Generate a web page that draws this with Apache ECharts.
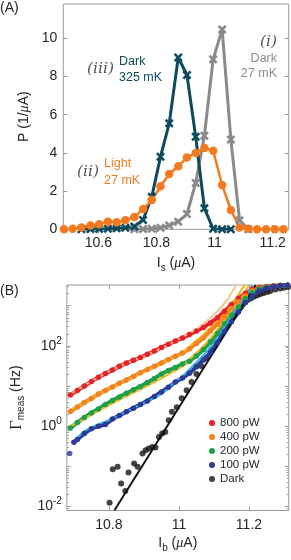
<!DOCTYPE html>
<html>
<head>
<meta charset="utf-8">
<script src="https://cdn.jsdelivr.net/npm/echarts@6/dist/echarts.min.js"></script>
<style>
html,body{margin:0;padding:0;background:#fff;}
#chart{width:291px;height:560px;}
</style>
</head>
<body>
<div id="chart"></div>
<script>
// ---------- Panel (A): switching-current histograms ----------
const isBins = [10.482,10.512,10.542,10.573,10.603,10.633,10.663,10.693,10.724,10.754,10.784,10.814,10.844,10.875,10.905,10.935,10.965,10.995,11.026,11.056,11.086,11.116,11.146,11.177,11.207,11.237];
const pDark27 = [null,null,null,null,null,null,null,null,0,0.01,0.03,0.08,0.2,0.4,0.8,2.42,4.9,8.9,10.47,4.7,0.47,0,null,null,null,null];
const pDark325 = [null,null,0,0.01,0.02,0.03,0.05,0.08,0.15,0.49,1.7,3.8,5.55,9.0,8.08,4.85,1.1,0.03,0,0,null,null,null,null,null,null];
const pLight27 = [0,0.03,0.1,0.2,0.27,0.4,0.37,0.48,0.64,1.06,1.53,2.25,2.9,3.3,3.76,4.0,4.26,4.12,2.32,1.01,0.1,0.03,0,0,0,0];
const xTicksA = [10.6,10.8,11,11.2];
const yTicksA = [0,2,4,6,8,10];

// ---------- Panel (B): escape rates ----------
const ibGrid = [10.69,10.71,10.73,10.75,10.77,10.79,10.81,10.83,10.85,10.87,10.89,10.91,10.93,10.95,10.97,10.99,11.01,11.03,11.05,11.07,11.09,11.11,11.13,11.15,11.17,11.19,11.21,11.23,11.25,11.27,11.29,11.31];
const gamma800 = [6.0,7.8,10.0,12.9,16.6,20.4,25.1,30.9,37.2,43.7,51.3,61.7,74,91,110,132,158,191,234,288,372,501,724,1072,1514,2042,2570,2884,3020,3126,3200,3236];
const gamma400 = [2.34,3.0,3.9,4.9,6.3,7.8,9.5,11.7,14.1,17.4,21.4,25.7,30.9,37.2,45.7,55,66,85,115,158,234,347,525,851,1259,1778,2344,2754,2951,3090,3162,3236];
const gamma200 = [0.91,1.23,1.66,2.14,2.69,3.47,4.37,5.37,6.6,8.1,9.8,12.3,15.5,20,24.5,28.8,35.5,41.7,56,81,126,204,355,575,933,1479,2089,2630,2884,3020,3162,3236];
const ib100 = [10.70,10.71,10.73,10.75,10.77,10.79,10.81,10.83,10.85,10.87,10.89,10.91,10.93,10.95,10.97,10.99,11.01,11.03,11.05,11.07,11.09,11.11,11.13,11.15,11.17,11.19,11.21,11.23,11.25,11.27,11.29,11.31];
const gamma100 = [0.40,0.47,0.66,0.87,1.0,1.1,1.51,1.86,2.29,2.82,3.47,4.27,5.5,7.1,9.3,12.6,15.8,20.9,30.2,44.7,67.6,120,224,398,692,1202,1778,2344,2754,3020,3162,3236];
const ib100Stray = [10.688];
const gamma100Stray = [0.21];
const ibDark = [10.802,10.811,10.825,10.835,10.847,10.856,10.872,10.882,10.896,10.905,10.914,10.924,10.933,10.943,10.952,10.961,10.971,10.980,10.994,11.008,11.022,11.036,11.050,11.064,11.078,11.092,11.106,11.120,11.134,11.149,11.167,11.177,11.186,11.196,11.205,11.214,11.224,11.233,11.242,11.252,11.261,11.275,11.289,11.300,11.312];
const gammaDark = [0.0124,0.085,0.098,0.0376,0.0245,0.0705,0.118,0.098,0.21,0.253,0.279,0.305,0.295,0.54,0.66,0.72,1.41,2.3,2.97,4.97,7.9,12.6,20,31.6,50,80,127,203,309,444,724,950,1175,1380,1503,1660,1820,1950,2070,2190,2323,2510,2660,2790,2917];
const fit800X = [10.69,10.73,10.77,10.81,10.85,10.89,10.93,10.97,11.01,11.05,11.08,11.10,11.12,11.14,11.155,11.164];
const fit800Y = [6.3,10.2,16.5,25.5,37,51,73,108,165,262,420,600,900,1500,2450,3270];
const fit400X = [10.688,10.73,10.77,10.81,10.85,10.89,10.93,10.97,11.01,11.04,11.07,11.10,11.13,11.16,11.18,11.19];
const fit400Y = [2.5,3.9,6.2,9.6,14.0,20.5,30,45,68,115,190,345,636,1400,2600,3270];
const fit200X = [10.688,10.73,10.77,10.81,10.85,10.89,10.93,10.97,11.01,11.04,11.07,11.10,11.13,11.16,11.185,11.20];
const fit200Y = [0.96,1.55,2.4,3.7,5.6,8.3,12.5,19.5,31,56,98,195,433,960,1950,3270];
const fit100X = [10.697,10.727,10.764,10.811,10.858,10.905,10.952,10.98,11.017,11.055,11.083,11.111,11.139,11.167,11.195,11.209];
const fit100Y = [0.37,0.72,1.06,1.55,2.5,4.0,6.5,11.0,20,43,78,166,393,929,1995,3270];
const fitDarkX = [10.816,11.219];
const fitDarkY = [0.0081,3270];
const legendNames = ['800 pW','400 pW','200 pW','100 pW','Dark'];
const xTicksB = [10.8,11,11.2];
const yLabelsB = [0.01,1,100];
const yMajorB = [0.01,0.1,1,10,100,1000];

// ---------- styling ----------
const FONT = '"Liberation Sans", Arial, Helvetica, sans-serif';
const TXT = '#262626';
const FRAME = '#9a9a9a';
const C_TEAL = '#0c4a5c', C_GRAY = '#8a8a8a', C_ORANGE = '#f47a20';
const C_RED = '#e8202a', C_OR = '#f58220', C_GREEN = '#1fa04a', C_BLUE = '#2b3a97', C_BLACK = '#151515';
const C_PEACH = '#f6c88e', C_GOLD = '#efb81a', C_LBLUE = '#33aee6';
const xPath = 'path://M2,0 L5,3 L8,0 L10,2 L7,5 L10,8 L8,10 L5,7 L2,10 L0,8 L3,5 L0,2 Z';

const minorB = [];
for (let e = -3; e <= 3; e++) for (let k = 2; k <= 9; k++) {
  const v = k * Math.pow(10, e);
  if (v > 0.008 && v < 3270) minorB.push(v);
}

const pairs = (xs, ys) => xs.map((x, i) => [x, ys[i]]);
const fmtX = v => String(Math.round(v * 10) / 10);
const tickStyle = {lineStyle: {color: FRAME, width: 1}};

function nameRich(size) {
  return {
    n: {fontSize: size, lineHeight: 20, color: TXT, fontFamily: FONT, verticalAlign: 'middle'},
    sub: {fontSize: size - 4, lineHeight: 10, color: TXT, fontFamily: FONT, verticalAlign: 'bottom'},
    mu: {fontSize: size, lineHeight: 20, color: TXT, fontFamily: '"Liberation Serif", serif', fontStyle: 'italic', verticalAlign: 'middle'},
    g: {fontSize: size + 3, lineHeight: 20, color: TXT, fontFamily: '"Liberation Serif", serif', verticalAlign: 'middle'}
  };
}

function tickOnlyAxis(base) {
  return Object.assign({
    axisLine: {show: false},
    axisLabel: {show: false},
    splitLine: {show: false}
  }, base);
}

const chart = echarts.init(document.getElementById('chart'), null, {renderer: 'canvas'});
const option = {
  animation: false,
  backgroundColor: '#fff',
  grid: [
    {left: 63.3, top: 4, width: 225.4, height: 225.3, show: true, borderColor: FRAME, borderWidth: 1, backgroundColor: 'transparent'},
    {left: 63.3, top: 285, width: 225.4, height: 225.5, show: true, borderColor: FRAME, borderWidth: 1, backgroundColor: 'transparent'}
  ],
  xAxis: [
    {gridIndex: 0, type: 'value', min: 10.4796, max: 11.255, position: 'bottom',
     axisLine: {show: false}, splitLine: {show: false},
     axisTick: Object.assign({inside: true, length: 4, customValues: xTicksA}, tickStyle),
     axisLabel: {customValues: xTicksA, formatter: fmtX, margin: 7, fontSize: 14, color: TXT, fontFamily: FONT},
     name: '{n|I}{sub|s}{n| (}{mu|μ}{n|A)}', nameLocation: 'middle', nameGap: 24,
     nameTextStyle: {rich: nameRich(14)}},
    tickOnlyAxis({gridIndex: 0, type: 'value', min: 10.4796, max: 11.255, position: 'top',
     axisTick: Object.assign({inside: true, length: 4, customValues: xTicksA}, tickStyle)}),
    {gridIndex: 1, type: 'value', min: 10.68, max: 11.3135, position: 'bottom',
     axisLine: {show: false}, splitLine: {show: false},
     axisTick: Object.assign({inside: true, length: 4, customValues: xTicksB}, tickStyle),
     axisLabel: {customValues: xTicksB, formatter: fmtX, margin: 8, fontSize: 14, color: TXT, fontFamily: FONT},
     name: '{n|I}{sub|b}{n| (}{mu|μ}{n|A)}', nameLocation: 'middle', nameGap: 23,
     nameTextStyle: {rich: nameRich(14)}},
    tickOnlyAxis({gridIndex: 1, type: 'value', min: 10.68, max: 11.3135, position: 'top',
     axisTick: Object.assign({inside: true, length: 4, customValues: xTicksB}, tickStyle)})
  ],
  yAxis: [
    {gridIndex: 0, type: 'value', min: 0, max: 11.8, position: 'left',
     axisLine: {show: false}, splitLine: {show: false},
     axisTick: Object.assign({inside: true, length: 4, customValues: yTicksA}, tickStyle),
     axisLabel: {customValues: yTicksA, margin: 6, fontSize: 14, color: TXT, fontFamily: FONT},
     name: '{n|P (1/}{mu|μ}{n|A)}', nameLocation: 'middle', nameGap: 23,
     nameTextStyle: {rich: nameRich(14)}},
    tickOnlyAxis({gridIndex: 0, type: 'value', min: 0, max: 11.8, position: 'right',
     axisTick: Object.assign({inside: true, length: 4, customValues: yTicksA}, tickStyle)}),
    {gridIndex: 1, type: 'log', logBase: 10, min: 0.008, max: 3270, position: 'left',
     axisLine: {show: false}, splitLine: {show: false},
     axisTick: Object.assign({inside: true, length: 4, customValues: yMajorB}, tickStyle),
     axisLabel: {customValues: yLabelsB, margin: 5, color: TXT, fontFamily: FONT,
       formatter: v => '{b|10}{s|' + Math.round(Math.log10(v)) + '}',
       rich: {b: {fontSize: 14, lineHeight: 20, color: TXT, fontFamily: FONT, verticalAlign: 'middle'},
              s: {fontSize: 10, lineHeight: 10, color: TXT, fontFamily: FONT, verticalAlign: 'top'}}},
     name: '{g|Γ}{sub|meas}{n| (Hz)}', nameLocation: 'middle', nameGap: 32,
     nameTextStyle: {rich: nameRich(14)}},
    tickOnlyAxis({gridIndex: 1, type: 'log', logBase: 10, min: 0.008, max: 3270, position: 'right',
     axisTick: Object.assign({inside: true, length: 4, customValues: yMajorB}, tickStyle)}),
    tickOnlyAxis({gridIndex: 1, type: 'log', logBase: 10, min: 0.008, max: 3270, position: 'left',
     axisTick: Object.assign({inside: true, length: 2, customValues: minorB}, tickStyle)}),
    tickOnlyAxis({gridIndex: 1, type: 'log', logBase: 10, min: 0.008, max: 3270, position: 'right',
     axisTick: Object.assign({inside: true, length: 2, customValues: minorB}, tickStyle)})
  ],
  legend: {
    data: legendNames, orient: 'vertical', left: 209, top: 417,
    icon: 'circle', itemWidth: 6, itemHeight: 6, itemGap: 2, itemTextGap: 10,
    textStyle: {fontSize: 11.5, color: TXT, fontFamily: FONT}, padding: 0
  },
  graphic: [
    {type: 'text', x: 0, y: 1, style: {text: '(A)', font: '14px ' + FONT, fill: TXT}},
    {type: 'text', x: 0, y: 284, style: {text: '(B)', font: '14px ' + FONT, fill: TXT}},
    {type: 'text', x: 87, y: 61, style: {text: '(iii)', font: 'italic 15.5px "DejaVu Serif", serif', fill: '#555'}},
    {type: 'text', x: 119, y: 55, style: {text: 'Dark', font: '12.5px ' + FONT, fill: C_TEAL}},
    {type: 'text', x: 119, y: 71, style: {text: '325 mK', font: '12.5px ' + FONT, fill: C_TEAL}},
    {type: 'text', x: 277, y: 34, style: {text: '(i)', font: 'italic 15.5px "DejaVu Serif", serif', fill: '#555', align: 'right'}},
    {type: 'text', x: 277, y: 52, style: {text: 'Dark', font: '12.5px ' + FONT, fill: C_GRAY, align: 'right'}},
    {type: 'text', x: 277, y: 67, style: {text: '27 mK', font: '12.5px ' + FONT, fill: C_GRAY, align: 'right'}},
    {type: 'text', x: 77, y: 164, style: {text: '(ii)', font: 'italic 15.5px "DejaVu Serif", serif', fill: '#555'}},
    {type: 'text', x: 104, y: 157, style: {text: 'Light', font: '12.5px ' + FONT, fill: C_ORANGE}},
    {type: 'text', x: 104, y: 174, style: {text: '27 mK', font: '12.5px ' + FONT, fill: C_ORANGE}}
  ],
  series: [
    // panel A
    {type: 'line', xAxisIndex: 0, yAxisIndex: 0, data: pairs(isBins, pDark27), color: C_GRAY,
     lineStyle: {width: 3, color: C_GRAY}, symbol: xPath, symbolSize: 9, itemStyle: {color: C_GRAY}},
    {type: 'line', xAxisIndex: 0, yAxisIndex: 0, data: pairs(isBins, pDark325), color: C_TEAL,
     lineStyle: {width: 3, color: C_TEAL}, symbol: xPath, symbolSize: 9, itemStyle: {color: C_TEAL}},
    {type: 'line', xAxisIndex: 0, yAxisIndex: 0, data: pairs(isBins, pLight27), color: C_ORANGE,
     lineStyle: {width: 2.5, color: C_ORANGE}, symbol: 'circle', symbolSize: 8.5, itemStyle: {color: C_ORANGE}},
    // panel B data
    {name: '800 pW', type: 'line', xAxisIndex: 2, yAxisIndex: 2, data: pairs(ibGrid, gamma800), color: C_RED,
     lineStyle: {width: 4, color: C_RED}, symbol: 'circle', symbolSize: 5.5, itemStyle: {color: C_RED}},
    {name: '400 pW', type: 'line', xAxisIndex: 2, yAxisIndex: 2, data: pairs(ibGrid, gamma400), color: C_OR,
     lineStyle: {width: 4, color: C_OR}, symbol: 'circle', symbolSize: 5.5, itemStyle: {color: C_OR}},
    {name: '200 pW', type: 'line', xAxisIndex: 2, yAxisIndex: 2, data: pairs(ibGrid, gamma200), color: C_GREEN,
     lineStyle: {width: 4, color: C_GREEN}, symbol: 'circle', symbolSize: 5.5, itemStyle: {color: C_GREEN}},
    {name: '100 pW', type: 'line', xAxisIndex: 2, yAxisIndex: 2, data: pairs(ib100, gamma100), color: C_BLUE,
     lineStyle: {width: 4, color: C_BLUE}, symbol: 'circle', symbolSize: 5.5, itemStyle: {color: C_BLUE}},
    {type: 'scatter', xAxisIndex: 2, yAxisIndex: 2, data: pairs(ib100Stray, gamma100Stray),
     symbol: 'circle', symbolSize: 5.5, itemStyle: {color: C_BLUE}},
    {name: 'Dark', type: 'scatter', xAxisIndex: 2, yAxisIndex: 2, data: pairs(ibDark, gammaDark), color: C_BLACK,
     symbol: 'circle', symbolSize: 6, itemStyle: {color: C_BLACK}},
    // panel B fits
    {type: 'line', xAxisIndex: 2, yAxisIndex: 2, data: pairs(fit800X, fit800Y), smooth: 0.3, showSymbol: false,
     lineStyle: {width: 2, color: C_PEACH}},
    {type: 'line', xAxisIndex: 2, yAxisIndex: 2, data: pairs(fit400X, fit400Y), smooth: 0.3, showSymbol: false,
     lineStyle: {width: 2, color: C_GOLD}},
    {type: 'line', xAxisIndex: 2, yAxisIndex: 2, data: pairs(fit200X, fit200Y), smooth: 0.3, showSymbol: false,
     lineStyle: {width: 2, color: C_GOLD}},
    {type: 'line', xAxisIndex: 2, yAxisIndex: 2, data: pairs(fit100X, fit100Y), smooth: 0.3, showSymbol: false,
     lineStyle: {width: 2, color: C_LBLUE}},
    {type: 'line', xAxisIndex: 2, yAxisIndex: 2, data: pairs(fitDarkX, fitDarkY), showSymbol: false,
     lineStyle: {width: 2, color: C_BLACK}}
  ]
};
chart.setOption(option);
</script>
</body>
</html>
